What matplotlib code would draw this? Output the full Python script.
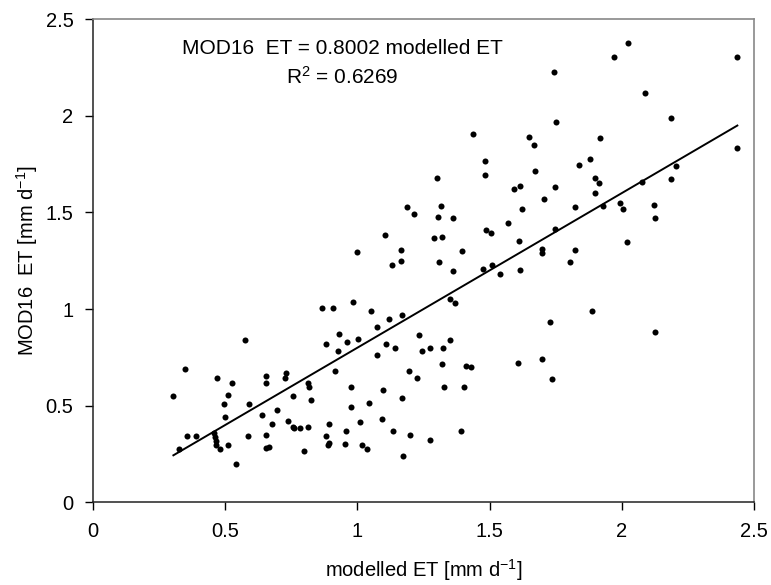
import matplotlib
matplotlib.use('Agg')
import matplotlib.pyplot as plt
import numpy as np

plt.rcParams['font.family'] = ['Liberation Sans', 'DejaVu Sans']
plt.rcParams['mathtext.default'] = 'regular'

# modelled ET vs MOD16 ET [mm d-1]
modelled_et = [
    0.575, 0.348, 0.304, 0.468, 0.525, 0.509, 0.494, 0.499, 0.590, 0.655,
    0.655, 0.730, 0.726, 0.756, 0.812, 0.816, 0.826, 0.640, 0.696, 0.676,
    0.736, 0.756, 0.761, 0.782, 0.812, 0.355, 0.390, 0.456, 0.461, 0.464,
    0.466, 0.481, 0.509, 0.327, 0.539, 0.585, 0.655, 0.655, 0.665, 0.797,
    0.999, 1.164, 1.396, 1.129, 1.164, 1.310, 1.361, 1.475, 1.510, 1.540,
    1.616, 0.867, 0.907, 0.982, 1.053, 1.073, 1.119, 1.169, 1.351, 1.370,
    0.932, 0.881, 0.927, 0.962, 1.003, 1.073, 1.109, 1.144, 1.234, 1.245,
    1.275, 1.325, 1.351, 1.320, 1.411, 1.430, 1.606, 0.917, 1.194, 1.225,
    0.977, 1.098, 1.169, 1.329, 1.405, 0.977, 1.043, 1.008, 1.093, 0.893,
    0.881, 0.957, 0.892, 0.888, 0.952, 1.018, 1.038, 1.133, 1.199, 1.275,
    1.391, 1.174,
    1.436, 1.482, 1.482, 1.300, 1.189, 1.214, 1.315, 1.305, 1.361, 1.103,
    1.290, 1.320, 1.487, 1.506,
    2.025, 1.969, 2.437, 1.742, 2.089, 2.186, 1.752, 2.437, 1.648, 1.667,
    1.919, 1.838, 1.879, 1.672, 2.206, 1.899, 1.914, 1.899, 1.591, 1.616,
    1.747, 2.075, 2.186, 1.707, 1.621, 1.823, 1.929, 1.994, 2.005, 2.121,
    2.126, 1.571, 1.747, 1.611, 1.697, 1.697, 1.823, 2.020,
    1.803, 1.889, 1.727, 2.125, 1.697, 1.737,
]
mod16_et = [
    0.838, 0.688, 0.549, 0.645, 0.618, 0.556, 0.507, 0.440, 0.509, 0.652,
    0.618, 0.668, 0.645, 0.550, 0.618, 0.597, 0.530, 0.452, 0.480, 0.405,
    0.419, 0.392, 0.385, 0.385, 0.392, 0.343, 0.343, 0.357, 0.336, 0.316,
    0.297, 0.274, 0.297, 0.274, 0.198, 0.343, 0.350, 0.281, 0.288, 0.268,
    1.296, 1.306, 1.303, 1.230, 1.249, 1.244, 1.196, 1.210, 1.227, 1.182,
    1.202, 1.004, 1.004, 1.039, 0.990, 0.907, 0.949, 0.969, 1.052, 1.032,
    0.873, 0.818, 0.783, 0.832, 0.845, 0.762, 0.818, 0.797, 0.866, 0.783,
    0.797, 0.797, 0.838, 0.714, 0.708, 0.700, 0.721, 0.680, 0.680, 0.645,
    0.597, 0.583, 0.542, 0.597, 0.597, 0.493, 0.514, 0.418, 0.431, 0.405,
    0.343, 0.371, 0.309, 0.295, 0.302, 0.295, 0.274, 0.371, 0.350, 0.323,
    0.371, 0.240,
    1.905, 1.767, 1.693, 1.679, 1.527, 1.492, 1.534, 1.479, 1.472, 1.382,
    1.368, 1.375, 1.410, 1.396,
    2.379, 2.303, 2.303, 2.229, 2.117, 1.988, 1.967, 1.836, 1.893, 1.850,
    1.886, 1.748, 1.775, 1.713, 1.741, 1.679, 1.651, 1.603, 1.624, 1.637,
    1.630, 1.658, 1.672, 1.568, 1.520, 1.527, 1.534, 1.548, 1.520, 1.541,
    1.472, 1.444, 1.417, 1.354, 1.313, 1.292, 1.306, 1.347,
    1.244, 0.990, 0.935, 0.882, 0.742, 0.638,
]
slope = 0.8002
r2 = 0.6269

x = np.array(modelled_et)
y = np.array(mod16_et)

fig = plt.figure(figsize=(7.71, 5.85), dpi=100)
ax = fig.add_axes([93 / 771, 1 - 502.3 / 585, (754 - 93) / 771, (502.3 - 19.3) / 585])

ax.scatter(x, y, s=19, color='black', linewidths=0, zorder=3)
xl = np.array([x.min(), x.max()])
ax.plot(xl, slope * xl, color='black', lw=1.4, zorder=2)

ax.set_xlim(0, 2.5)
ax.set_ylim(0, 2.5)
ax.set_xticks([0, 0.5, 1, 1.5, 2, 2.5])
ax.set_yticks([0, 0.5, 1, 1.5, 2, 2.5])
ax.set_xticklabels(['0', '0.5', '1', '1.5', '2', '2.5'])
ax.set_yticklabels(['0', '0.5', '1', '1.5', '2', '2.5'])
ax.tick_params(direction='out', length=6, width=1, labelsize=14.5, pad=8,
               top=False, right=False)

for s in ['left', 'bottom']:
    ax.spines[s].set_color('#222222')
    ax.spines[s].set_linewidth(1.1)
for s in ['top', 'right']:
    ax.spines[s].set_color('#888888')
    ax.spines[s].set_linewidth(1.2)

ax.set_xlabel(r'modelled ET [mm d$^{-1}$]', fontsize=14.5, labelpad=12)
ax.set_ylabel(r'MOD16  ET [mm d$^{-1}$]', fontsize=14.5, labelpad=4)

ax.text(0.942, 2.35, 'MOD16  ET = %.4f modelled ET' % slope, fontsize=15,
        ha='center', va='center')
ax.text(0.942, 2.203, r'R$^2$ = %.4f' % r2, fontsize=15,
        ha='center', va='center')

fig.savefig('out.png', dpi=100)
